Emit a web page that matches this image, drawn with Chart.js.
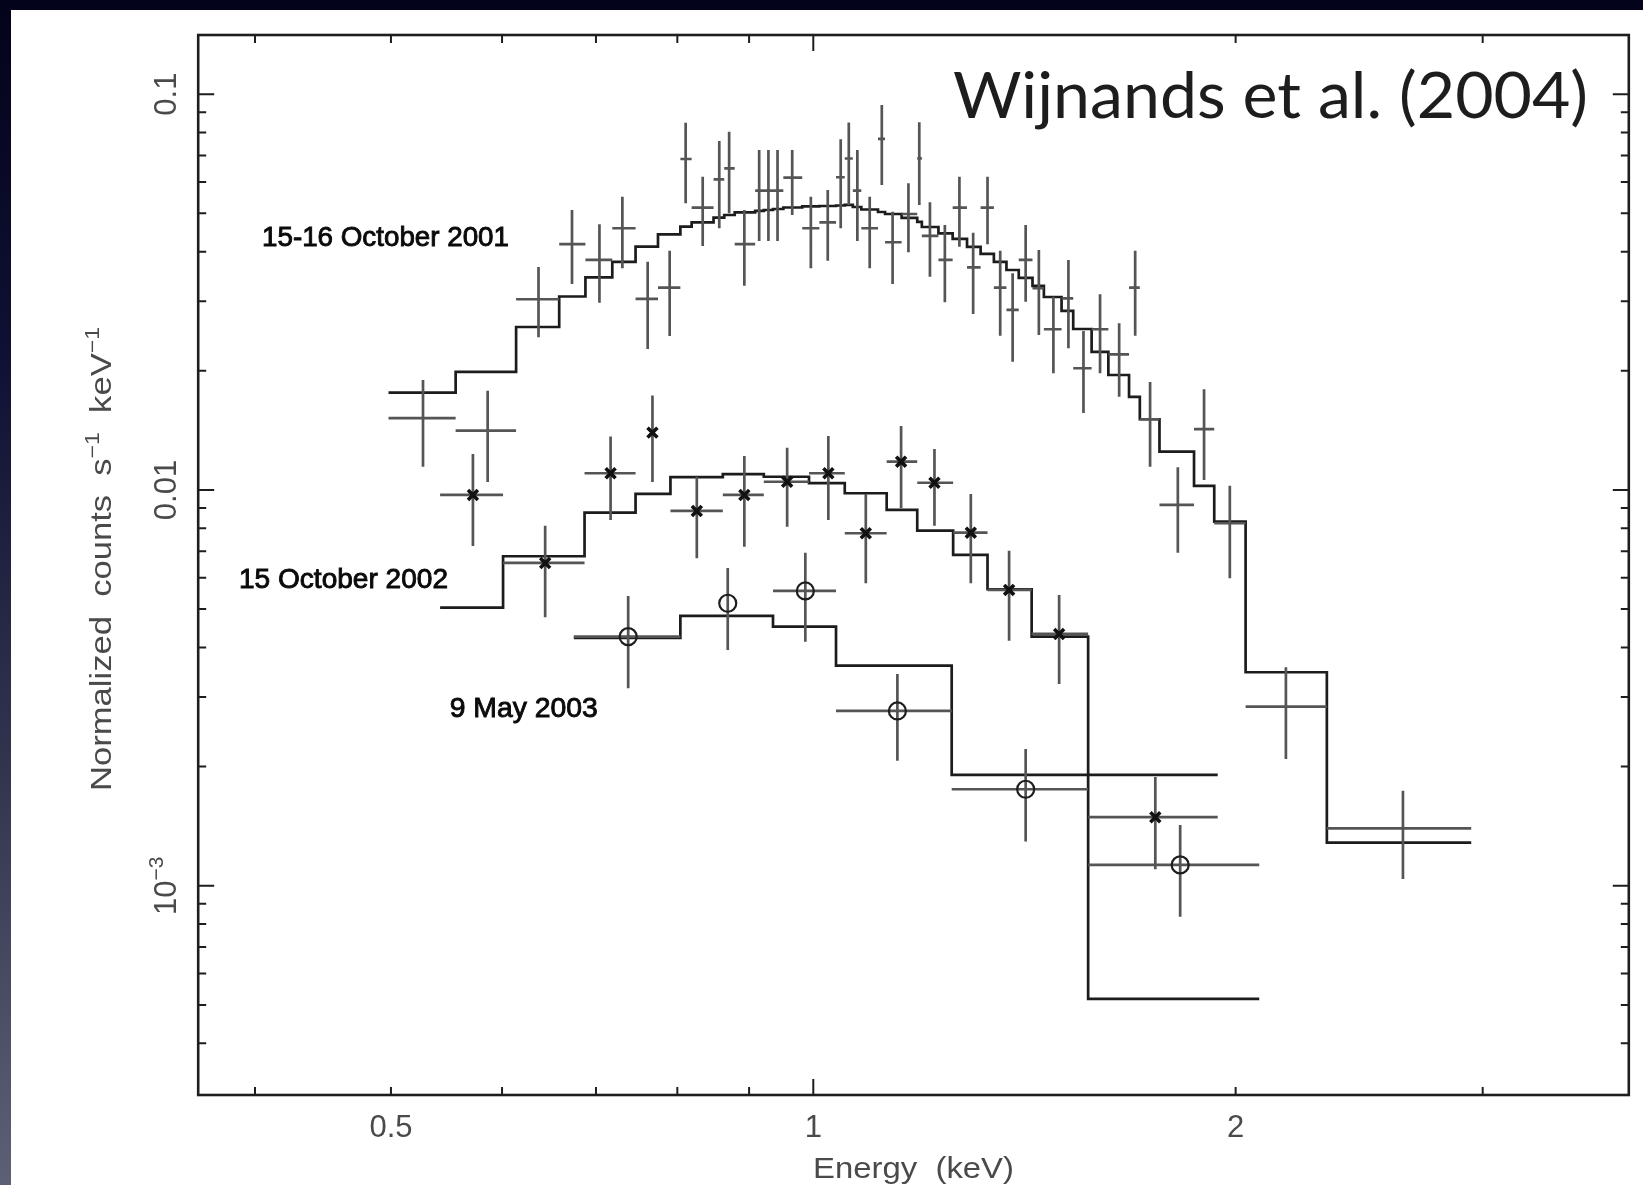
<!DOCTYPE html>
<html lang="en">
<head>
<meta charset="UTF-8">
<title>Wijnands et al. (2004) spectra</title>
<script src="https://cdn.jsdelivr.net/npm/chart.js"></script>
<style>
    html, body { margin: 0; padding: 0; }
    body {
        width: 1643px; height: 1185px; overflow: hidden;
        background: linear-gradient(180deg, #03031b 0%, #101034 30%, #33354f 65%, #5d6075 100%);
    }
    .panel { position: absolute; left: 11px; top: 10px; width: 1632px; height: 1175px; background: #fff; }
    canvas { display: block; }
</style>
</head>
<body>
<div class="panel"><canvas id="spectrum" width="1632" height="1175"></canvas></div>

<script>
    // axis ranges and ticks
    const xRange = [0.3644, 3.813];
    const yRange = [0.000296, 0.1411];
    const xTickValues = [0.4, 0.5, 0.6, 0.7, 0.8, 0.9, 1, 2, 3];
    const xTickLabels = [[0.5, '0.5'], [1, '1'], [2, '2']];
    const yTickValues = [0.0004, 0.0005, 0.0006, 0.0007, 0.0008, 0.0009,
        0.001, 0.002, 0.003, 0.004, 0.005, 0.006, 0.007, 0.008, 0.009,
        0.01, 0.02, 0.03, 0.04, 0.05, 0.06, 0.07, 0.08, 0.09, 0.1];
    const yTickLabels = [[0.1, [['0.1', false]]], [0.01, [['0.01', false]]], [0.001, [['10', false], ['\u22123', true]]]];

    // 15-16 October 2001 (keV bin edges, normalized counts s^-1 keV^-1)
    const edges2001 = [0.498, 0.556, 0.614, 0.659, 0.688, 0.719, 0.747, 0.775, 0.804, 0.819,
        0.849, 0.864, 0.879, 0.909, 0.922, 0.936, 0.952, 0.982, 1.010, 1.038,
        1.053, 1.067, 1.082, 1.112, 1.125, 1.156, 1.186, 1.195, 1.228, 1.257,
        1.287, 1.316, 1.345, 1.373, 1.401, 1.433, 1.460, 1.503, 1.532, 1.579,
        1.623, 1.679, 1.709, 1.765, 1.868, 1.931, 2.033, 2.323, 2.944];
    const energy2001 = [0.527, 0.586, 0.637, 0.673, 0.704, 0.731, 0.762, 0.790, 0.811, 0.834,
        0.857, 0.871, 0.893, 0.915, 0.929, 0.943, 0.966, 0.996, 1.024, 1.046,
        1.060, 1.075, 1.097, 1.119, 1.139, 1.169, 1.190, 1.211, 1.241, 1.271,
        1.300, 1.331, 1.359, 1.387, 1.417, 1.448, 1.483, 1.520, 1.558, 1.601,
        1.652, 1.696, 1.738, 1.819, 1.899, 1.981, 2.172, 2.632];
    const counts2001 = [0.01518, 0.01412, 0.03033, 0.04178, 0.03812, 0.04584, 0.03038, 0.03244, 0.06859, 0.05167,
        0.06095, 0.06498, 0.04178, 0.05704, 0.05704, 0.05704, 0.06153, 0.04584, 0.04746, 0.06167,
        0.06879, 0.05704, 0.04584, 0.07706, 0.04225, 0.04981, 0.06887, 0.04383, 0.03812, 0.05167,
        0.03653, 0.05167, 0.03244, 0.0285, 0.03812, 0.03233, 0.02547, 0.0305, 0.0203, 0.02547,
        0.02202, 0.03244, 0.01509, 0.009164, 0.01424, 0.008239, 0.002835, 0.001397];
    const countsHi2001 = [0.01897, 0.01782, 0.0366, 0.05098, 0.04692, 0.05509, 0.03774, 0.04024, 0.08472, 0.06189,
        0.07617, 0.0804, 0.05098, 0.07228, 0.07228, 0.07228, 0.07228, 0.05509, 0.05728, 0.07692,
        0.08482, 0.07228, 0.05509, 0.09391, 0.05048, 0.05955, 0.08492, 0.05332, 0.04672, 0.06189,
        0.04468, 0.06189, 0.04024, 0.03528, 0.04672, 0.0404, 0.03079, 0.03812, 0.02522, 0.03122,
        0.02637, 0.04024, 0.01875, 0.01141, 0.01797, 0.01025, 0.003565, 0.001739];
    const countsLo2001 = [0.01145, 0.01048, 0.02431, 0.03315, 0.02973, 0.03632, 0.02271, 0.0245, 0.05301, 0.04135,
        0.04584, 0.05001, 0.03282, 0.04257, 0.04257, 0.04257, 0.04952, 0.03632, 0.03796, 0.04584,
        0.05249, 0.04257, 0.03632, 0.05897, 0.03315, 0.03987, 0.05249, 0.03459, 0.0298, 0.04118,
        0.02784, 0.04176, 0.02454, 0.02109, 0.0299, 0.02464, 0.01972, 0.0228, 0.01565, 0.01972,
        0.01721, 0.02454, 0.01145, 0.006944, 0.0106, 0.005983, 0.002091, 0.00104];
    const model2001 = [0.01761, 0.01987, 0.02581, 0.03082, 0.03443, 0.03768, 0.04118, 0.04426, 0.04627, 0.04746,
        0.04875, 0.04952, 0.05025, 0.05069, 0.05098, 0.05128, 0.05173, 0.05209, 0.05218, 0.05233,
        0.05249, 0.05188, 0.05113, 0.05039, 0.04981, 0.04867, 0.04755, 0.04618, 0.04447, 0.04307,
        0.04111, 0.03947, 0.03768, 0.03596, 0.03433, 0.03277, 0.03073, 0.02833, 0.02551, 0.02232,
        0.01952, 0.01718, 0.01509, 0.0125, 0.01024, 0.008316, 0.003463, 0.001285];

    // 15 October 2002
    const edges2002 = [0.542, 0.601, 0.687, 0.747, 0.791, 0.862, 0.922, 0.993, 1.053, 1.128, 1.186, 1.258, 1.331, 1.431, 1.570, 1.942];
    const energy2002 = [0.572, 0.644, 0.717, 0.768, 0.826, 0.893, 0.958, 1.025, 1.090, 1.155, 1.220, 1.295, 1.379, 1.497, 1.753];
    const counts2002 = [0.009713, 0.00654, 0.01102, 0.01396, 0.00885, 0.009713, 0.01049, 0.01102, 0.007773, 0.01179, 0.01043, 0.0078, 0.00559, 0.004327, 0.00149];
    const countsHi2002 = [0.01233, 0.008125, 0.01364, 0.01733, 0.0108, 0.01219, 0.01279, 0.01369, 0.00977, 0.01451, 0.01269, 0.00977, 0.007025, 0.005429, 0.001883];
    const countsLo2002 = [0.007219, 0.004768, 0.008399, 0.01048, 0.006721, 0.00719, 0.008077, 0.008399, 0.005811, 0.00899, 0.008125, 0.005811, 0.004162, 0.003235, 0.001101];
    const model2002 = [0.005042, 0.0068, 0.008763, 0.00977, 0.01077, 0.01096, 0.0108, 0.0104, 0.00981, 0.008902, 0.007892, 0.006852, 0.005612, 0.00426, 0.001905];
    const noXBar2002 = [3];

    // 9 May 2003
    const edges2003 = [0.675, 0.804, 0.936, 1.038, 1.255, 1.570, 2.079];
    const energy2003 = [0.738, 0.869, 0.987, 1.148, 1.417, 1.826];
    const counts2003 = [0.00426, 0.005173, 0.005557, 0.002765, 0.001753, 0.001129];
    const countsHi2003 = [0.005398, 0.006352, 0.006944, 0.003428, 0.002216, 0.001424];
    const countsLo2003 = [0.003155, 0.003942, 0.004138, 0.00207, 0.001293, 0.0008355];
    const model2003 = [0.004228, 0.004805, 0.004515, 0.003598, 0.001905, 0.0005176];
    const noXBar2003 = [1];

    const seriesNames = ['15-16 October 2001', '15 October 2002', '9 May 2003'];

    // model histogram: one point per bin start, plus the last edge
    function stepData(edges, model) {
        const pts = model.map((m, i) => ({x: edges[i], y: m}));
        pts.push({x: edges[edges.length - 1], y: model[model.length - 1]});
        return pts;
    }

    // error crosses as one broken line (null breaks the path)
    function crossData(edges, energy, counts, lo, hi, skipX) {
        const pts = [];
        energy.forEach((e, i) => {
            if (!skipX.includes(i)) {
                pts.push({x: edges[i], y: counts[i]}, {x: edges[i + 1], y: counts[i]}, {x: edges[i + 1], y: null});
            }
            pts.push({x: e, y: lo[i]}, {x: e, y: hi[i]}, {x: e, y: null});
        });
        return pts;
    }

    const barStyle = {type: 'line', borderColor: '#555', borderWidth: 2.7, pointRadius: 0, spanGaps: false, borderCapStyle: 'butt', order: 2};
    const modelStyle = {type: 'line', borderColor: '#1c1c1c', borderWidth: 2.7, pointRadius: 0, stepped: true, order: 3};

    function drawRuns(ctx, runs, size, family, color, width, align, stroke) {
        const supSize = Math.round(size * 0.68);
        const widths = runs.map(([t, sup]) => {
            ctx.font = (sup ? supSize : size) + 'px ' + family;
            return ctx.measureText(t).width;
        });
        const natural = widths.reduce((s, w) => s + w, 0);
        const sx = width ? width / natural : 1;
        let x0 = align === 'center' ? -natural / 2 : 0;
        ctx.save();
        ctx.scale(sx, 1);
        ctx.fillStyle = color;
        ctx.strokeStyle = color;
        ctx.lineWidth = stroke || 0;
        ctx.textAlign = 'left';
        ctx.textBaseline = 'alphabetic';
        runs.forEach(([t, sup], i) => {
            ctx.font = (sup ? supSize : size) + 'px ' + family;
            const ty = sup ? -size * 0.42 : 0;
            ctx.fillText(t, x0, ty);
            if (stroke) ctx.strokeText(t, x0, ty);
            x0 += widths[i];
        });
        ctx.restore();
    }

    const isMajor = v => Math.abs(Math.log10(v) - Math.round(Math.log10(v))) < 1e-6;

    const pgplotAxes = {
        id: 'pgplotAxes',
        afterDraw(chart) {
            const {ctx, chartArea: a, scales: {x, y}} = chart;
            const axisFont = '"Liberation Sans", Arial, sans-serif';
            const grey = '#4a4a4a';
            ctx.save();
            ctx.strokeStyle = '#1e1e1e';
            ctx.lineWidth = 2;
            ctx.beginPath();
            x.ticks.forEach(t => {
                const px = x.getPixelForValue(t.value);
                const len = isMajor(t.value) ? 16 : 8;
                ctx.moveTo(px, a.bottom); ctx.lineTo(px, a.bottom - len);
                ctx.moveTo(px, a.top); ctx.lineTo(px, a.top + len);
            });
            y.ticks.forEach(t => {
                const py = y.getPixelForValue(t.value);
                const len = isMajor(t.value) ? 16 : 8;
                ctx.moveTo(a.left, py); ctx.lineTo(a.left + len, py);
                ctx.moveTo(a.right, py); ctx.lineTo(a.right - len, py);
            });
            ctx.stroke();
            ctx.lineWidth = 2.6;
            ctx.strokeRect(a.left, a.top, a.right - a.left, a.bottom - a.top);

            // tick labels
            xTickLabels.forEach(([v, txt]) => {
                ctx.save();
                ctx.translate(x.getPixelForValue(v), a.bottom + 42);
                drawRuns(ctx, [[txt, false]], 31, axisFont, grey, null, 'center');
                ctx.restore();
            });
            yTickLabels.forEach(([v, runs]) => {
                ctx.save();
                ctx.translate(a.left - 22, y.getPixelForValue(v));
                ctx.rotate(-Math.PI / 2);
                drawRuns(ctx, runs, 31, axisFont, grey, null, 'center');
                ctx.restore();
            });

            // axis titles
            ctx.save();
            ctx.translate((a.left + a.right) / 2, a.bottom + 83);
            drawRuns(ctx, [['Energy  (keV)', false]], 30, axisFont, grey, 201, 'center');
            ctx.restore();
            ctx.save();
            ctx.translate(a.left - 87, 549);
            ctx.rotate(-Math.PI / 2);
            drawRuns(ctx, [['Normalized  counts  s', false], ['\u22121', true], ['  keV', false], ['\u22121', true]],
                30, axisFont, grey, 464, 'center');
            ctx.restore();

            // series labels and citation
            const labelSpots = [[251, 236, 247], [228, 578, 209], [438.7, 707, 148]];
            seriesNames.forEach((name, i) => {
                const [lx, ly, lw] = labelSpots[i];
                ctx.save();
                ctx.translate(lx, ly);
                drawRuns(ctx, [[name, false]], 28, axisFont, '#0a0a0a', lw, 'left', 0.9);
                ctx.restore();
            });
            ctx.save();
            ctx.translate(942, 108);
            drawRuns(ctx, [['Wijnands et al. (2004)', false]], 64, 'Lato, "Open Sans", sans-serif', '#1d1d1d', 635, 'left');
            ctx.restore();
            ctx.restore();
        }
    };

    new Chart(document.getElementById('spectrum'), {
        type: 'scatter',
        data: {
            datasets: [
                {label: seriesNames[1], data: energy2002.map((e, i) => ({x: e, y: counts2002[i]})),
                    pointStyle: 'crossRot', pointRadius: 7, borderWidth: 3.6, borderColor: '#111', order: 0},
                {label: seriesNames[2], data: energy2003.map((e, i) => ({x: e, y: counts2003[i]})),
                    pointStyle: 'circle', pointRadius: 8.5, borderWidth: 2.2, borderColor: '#1e1e1e',
                    backgroundColor: 'rgba(0,0,0,0)', order: 0},
                {...barStyle, label: 'bars 2001', data: crossData(edges2001, energy2001, counts2001, countsLo2001, countsHi2001, [])},
                {...barStyle, label: 'bars 2002', data: crossData(edges2002, energy2002, counts2002, countsLo2002, countsHi2002, noXBar2002)},
                {...barStyle, label: 'bars 2003', data: crossData(edges2003, energy2003, counts2003, countsLo2003, countsHi2003, noXBar2003)},
                {...modelStyle, label: 'model 2001', data: stepData(edges2001, model2001)},
                {...modelStyle, label: 'model 2002', data: stepData(edges2002, model2002)},
                {...modelStyle, label: 'model 2003', data: stepData(edges2003, model2003)}
            ]
        },
        options: {
            responsive: false,
            animation: false,
            events: [],
            layout: {padding: {left: 187.2, top: 25, right: 14.2, bottom: 90}},
            plugins: {legend: {display: false}, tooltip: {enabled: false}},
            scales: {
                x: {
                    type: 'logarithmic', min: xRange[0], max: xRange[1], display: false,
                    afterBuildTicks: s => { s.ticks = xTickValues.map(v => ({value: v})); }
                },
                y: {
                    type: 'logarithmic', min: yRange[0], max: yRange[1], display: false,
                    afterBuildTicks: s => { s.ticks = yTickValues.map(v => ({value: v})); }
                }
            }
        },
        plugins: [pgplotAxes]
    });
</script>
</body>
</html>
